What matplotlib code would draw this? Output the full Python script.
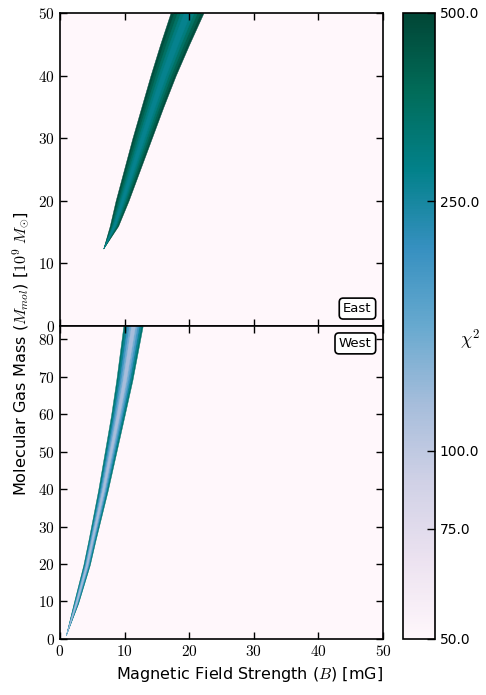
import numpy as np
import matplotlib
matplotlib.use("Agg")
import matplotlib.pyplot as plt
from matplotlib.colors import LogNorm
from matplotlib.ticker import FuncFormatter
import matplotlib.cm as cm

plt.rcParams['mathtext.fontset'] = 'cm'
plt.rcParams['font.family'] = ['DejaVu Sans']

# East band edges
east_M = [12.4, 16, 20, 25, 30, 35, 40, 45, 50]
east_left = [6.7, 7.7, 8.6, 9.9, 11.2, 12.6, 14.0, 15.5, 17.1]
east_right = [6.7, 9.0, 10.6, 12.4, 14.2, 16.0, 17.9, 20.0, 22.2]
# chi^2 across the band, from edge (0) towards centre (0.5)
east_frac = [0.0, 0.1, 0.2, 0.3, 0.4]
east_chi2 = [470, 410, 350, 300, 275]

# West band edges
west_M = [1.0, 9.5, 19.7, 26.4, 39.7, 59.7, 69, 83.5]
west_left = [0.9, 2.1, 3.6, 4.4, 5.9, 7.9, 8.7, 9.8]
west_right = [0.9, 2.8, 4.6, 5.5, 7.4, 10.0, 11.2, 12.8]
west_frac = [0.0, 0.1, 0.2, 0.3, 0.4]
west_chi2 = [330, 260, 195, 150, 118]

cbar_ticks = [50, 75, 100, 250, 500]

cmap = plt.get_cmap('PuBuGn')
norm = LogNorm(vmin=50, vmax=500)


def draw_band(ax, M, left, right, fracs, vals):
    M = np.array(M)
    left = np.array(left)
    right = np.array(right)
    w = right - left
    for f, v in zip(fracs, vals):
        c = cmap(norm(v))
        ax.fill_betweenx(M, left + f*w, right - f*w, color=c, ec=c, lw=0.3)


def int_fmt(v, pos):
    return r'$%d$' % int(round(v))


fig = plt.figure(figsize=(4.86, 6.95), dpi=100)
ax1 = fig.add_axes([0.1235, 0.5309, 0.6646, 0.4504])
ax2 = fig.add_axes([0.1235, 0.0806, 0.6646, 0.4504])
cax = fig.add_axes([0.8292, 0.0806, 0.0658, 0.9007])

draw_band(ax1, east_M, east_left, east_right, east_frac, east_chi2)
draw_band(ax2, west_M, west_left, west_right, west_frac, west_chi2)

ax1.set_ylim(0, 50)
ax2.set_ylim(0, 83.5)
for ax in (ax1, ax2):
    ax.set_xlim(0, 50)
    ax.set_facecolor(cmap(0.0))
    ax.set_xticks(np.arange(0, 51, 10))
    ax.tick_params(direction='in', top=True, right=True, length=5, width=1,
                   labelsize=11)
    ax.yaxis.set_major_formatter(FuncFormatter(int_fmt))
    ax.xaxis.set_major_formatter(FuncFormatter(int_fmt))
    for s in ax.spines.values():
        s.set_linewidth(1.2)
ax1.set_yticks(np.arange(0, 51, 10))
ax2.set_yticks(np.arange(0, 81, 10))
ax1.tick_params(labelbottom=False)

box = dict(boxstyle='round,pad=0.3', fc='white', ec='black', lw=1.2)
ax1.text(0.965, 0.035, 'East', transform=ax1.transAxes, ha='right', va='bottom',
         fontsize=9.5, bbox=box)
ax2.text(0.965, 0.965, 'West', transform=ax2.transAxes, ha='right', va='top',
         fontsize=9.5, bbox=box)

sm = cm.ScalarMappable(norm=norm, cmap=cmap)
cb = fig.colorbar(sm, cax=cax)
cb.set_ticks(cbar_ticks)
cb.set_ticklabels(['%.1f' % t for t in cbar_ticks])
cb.minorticks_off()
cax.tick_params(direction='in', length=6, width=1, labelsize=10)
cb.outline.set_linewidth(1.2)

fig.text(0.967, 0.511, r'$\chi^2$', fontsize=13, ha='center', va='center')
fig.text(0.514, 0.016, r'Magnetic Field Strength ($B$) [mG]', fontsize=11.5,
         ha='center', va='bottom')
fig.text(0.045, 0.492, r'Molecular Gas Mass ($M_{mol}$) [$10^9\ M_{\odot}$]',
         fontsize=11.6, rotation=90, ha='center', va='center')

fig.savefig('out.png', dpi=100)
